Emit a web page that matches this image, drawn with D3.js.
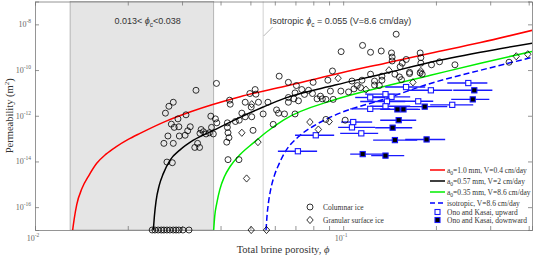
<!DOCTYPE html>
<html>
<head>
<meta charset="utf-8">
<script src="https://cdn.jsdelivr.net/npm/d3@7"></script>
<style>
  body { margin: 0; background: #fff; }
  svg { display: block; }
  .serif { font-family: "Liberation Serif", "Times New Roman", serif; }
  .sans { font-family: "Liberation Sans", Arial, sans-serif; }
</style>
</head>
<body>
<div id="chart"></div>
<script>
// ---- data (porosity phi, permeability k in m^2) ----

// columnar ice samples; k = 1e-17 marks samples plotted on the bottom axis
const columnarIce = [
  [0.0388, 2.6e-11], [0.0333, 1.3e-11], [0.0281, 3.9e-12], [0.0272, 2.6e-12],
  [0.0265, 1.3e-12], [0.0309, 1.1e-12], [0.0291, 7.3e-13], [0.0277, 4.3e-13],
  [0.0283, 3.1e-13], [0.0293, 3.3e-13], [0.0319, 3.3e-13], [0.0313, 2.2e-13],
  [0.0270, 1.3e-13], [0.0294, 1.3e-13], [0.0307, 1.4e-13], [0.0372, 9.6e-13],
  [0.0385, 7.3e-13], [0.0389, 4.9e-13], [0.0374, 3.1e-13], [0.0346, 2.5e-13],
  [0.0352, 2.0e-13], [0.0428, 4.8e-12], [0.0430, 3.2e-12], [0.0421, 4.9e-13],
  [0.0421, 3.1e-13], [0.0423, 1.8e-13], [0.0426, 1.1e-13], [0.0447, 5.6e-13],
  [0.0460, 6.4e-13], [0.0281, 6.2e-14], [0.0262, 6.2e-14], [0.0343, 1.7e-13],
  [0.0359, 1.6e-13], [0.0368, 1.8e-13], [0.0379, 1.6e-13], [0.0330, 4.1e-14],
  [0.0342, 4.1e-14], [0.0337, 6.2e-14], [0.0268, 9.4e-15], [0.0279, 8.8e-15],
  [0.0419, 7.0e-14], [0.0423, 1.2e-14], [0.0459, 1.2e-14],
  [0.0240, 1e-17], [0.0245, 1e-17], [0.0251, 1e-17], [0.0257, 1e-17],
  [0.0262, 1e-17], [0.0268, 1e-17], [0.0274, 1e-17], [0.0281, 1e-17],
  [0.0287, 1e-17], [0.0293, 1e-17], [0.0302, 1e-17], [0.0316, 1e-17],
  [0.1156, 1.2e-9], [0.0985, 6.4e-10], [0.1227, 6.0e-10], [0.1329, 6.8e-10],
  [0.0620, 5.4e-11], [0.0664, 2.9e-11], [0.0923, 9.1e-11], [0.0892, 3.6e-11],
  [0.0799, 2.9e-11], [0.1227, 6.6e-11], [0.1151, 3.6e-11], [0.1068, 3.3e-11],
  [0.0498, 9.4e-12], [0.0518, 1.4e-11], [0.0521, 8.8e-12], [0.0481, 3.9e-12],
  [0.0531, 3.9e-12], [0.0570, 3.9e-12], [0.0503, 2.4e-12], [0.0705, 2.1e-11],
  [0.0698, 1.0e-11], [0.0734, 1.4e-11], [0.0749, 8.6e-12], [0.0664, 6.3e-12],
  [0.0716, 4.5e-12], [0.0664, 3.9e-12], [0.0692, 5.5e-12], [0.0772, 1.3e-11],
  [0.0795, 9.4e-12], [0.0823, 5.5e-12], [0.0856, 5.5e-12], [0.0879, 5.2e-12],
  [0.0844, 7.2e-12], [0.0928, 5.2e-12], [0.0909, 1.2e-11], [0.0983, 1.2e-11],
  [0.1041, 1.1e-11], [0.1084, 1.5e-11], [0.1111, 2.1e-11], [0.1139, 1.7e-11],
  [0.1264, 3.3e-11], [0.1336, 3.6e-11], [0.1336, 5.4e-11], [0.1264, 2.2e-11],
  [0.1310, 2.1e-11], [0.0608, 1.8e-12], [0.0617, 1.3e-12], [0.0645, 1.2e-12],
  [0.0698, 1.2e-12], [0.0481, 9.0e-13], [0.0505, 9.0e-13], [0.0469, 1.3e-12],
  [0.0550, 1.2e-12], [0.0879, 6.9e-13], [0.1015, 6.4e-13], [0.0593, 4.2e-13],
  [0.0510, 2.3e-13],
  [0.1486, 3.7e-9], [0.1435, 5.6e-10], [0.1442, 3.7e-10], [0.1442, 2.5e-10],
  [0.1778, 5.6e-10], [0.1787, 3.5e-10], [0.1787, 2.0e-10], [0.1935, 1.7e-10],
  [0.2054, 2.3e-10], [0.2305, 1.7e-10], [0.3454, 2.2e-10], [0.1555, 2.0e-10],
  [0.1602, 2.9e-10], [0.1642, 8.0e-11], [0.1531, 1.4e-10], [0.1472, 6.6e-11],
  [0.1523, 5.0e-11], [0.1546, 3.8e-11], [0.1642, 7.0e-11], [0.1778, 7.5e-11],
  [0.1805, 6.6e-11]
]

// granular surface ice samples
const granularIce = [
  [0.0963, 4.4e-11], [0.0505, 3.2e-12], [0.0780, 5.3e-13], [0.0831, 2.5e-13],
  [0.0901, 5.6e-13], [0.0529, 7.0e-14], [0.0486, 1.8e-15], [0.0469, 1.8e-13],
  [0.0503, 1e-17], [0.0564, 1e-17], [0.1408, 9.8e-11], [0.1787, 9.1e-11],
  [0.1684, 2.9e-11], [0.3645, 4.0e-10], [0.3972, 4.9e-10], [0.1185, 1.4e-11]
]

// Ono and Kasai: [phi, k, phi low, phi high]
const onoUpward = [
  [0.0713, 2.8e-14, 0.0614, 0.0823], [0.0815, 1.4e-13, 0.0698, 0.0935],
  [0.1078, 5.3e-13, 0.0985, 0.1242], [0.1068, 3.1e-13, 0.0963, 0.1270],
  [0.1145, 1.7e-13, 0.0978, 0.1299], [0.1600, 1.8e-11, 0.1369, 0.1846],
  [0.1926, 1.3e-11, 0.1614, 0.2259], [0.2547, 2.7e-11, 0.2177, 0.2937],
  [0.1752, 4.3e-12, 0.1319, 0.1960], [0.2259, 3.0e-12, 0.1916, 0.2643],
  [0.1372, 8.8e-12, 0.1179, 0.1531], [0.1435, 6.7e-12, 0.1242, 0.1650],
  [0.1387, 4.2e-12, 0.1136, 0.1590], [0.1224, 2.0e-12, 0.1054, 0.1421],
  [0.1224, 6.3e-12, 0.1094, 0.1369], [0.1372, 2.6e-12, 0.1224, 0.1650]
]
const onoDownward = [
  [0.2664, 1.3e-11, 0.2276, 0.3049], [0.2634, 5.2e-12, 0.2242, 0.2980],
  [0.1839, 2.5e-12, 0.1566, 0.2177], [0.1569, 1.9e-12, 0.1349, 0.1778],
  [0.1500, 1.9e-12, 0.1319, 0.1751], [0.1514, 6.4e-13, 0.1319, 0.1726],
  [0.1447, 3.0e-13, 0.1270, 0.1675], [0.1472, 8.6e-14, 0.1251, 0.1739],
  [0.1865, 9.2e-14, 0.1590, 0.2143], [0.1157, 2.1e-14, 0.1054, 0.1349],
  [0.1372, 1.8e-14, 0.1233, 0.1578]
]

// model curves
const modelA10 = [
  [0.01325, 1e-17], [0.01340, 3.0e-17], [0.01366, 1.3e-16], [0.01420, 6.5e-16],
  [0.01500, 2.6e-15], [0.01586, 8.3e-15], [0.01700, 2.1e-14], [0.01842, 4.6e-14],
  [0.02000, 9.0e-14], [0.02192, 1.7e-13], [0.02676, 6.0e-13], [0.0320, 1.5e-12],
  [0.0463, 6.8e-12], [0.0648, 1.95e-11], [0.0942, 6.6e-11], [0.137, 2.0e-10],
  [0.192, 5.4e-10], [0.279, 1.6e-9], [0.411, 5.5e-9]
]
const modelA057 = [
  [0.02421, 1e-17], [0.02440, 4.0e-17], [0.02470, 1.8e-16], [0.02530, 9.0e-16],
  [0.02610, 3.0e-15], [0.02744, 1.15e-14], [0.02956, 3.2e-14], [0.03266, 8.5e-14],
  [0.03793, 2.3e-13], [0.0463, 8.5e-13], [0.0550, 2.4e-12], [0.0648, 5.9e-12],
  [0.0942, 2.2e-11], [0.137, 7.2e-11], [0.192, 2.2e-10], [0.279, 6.0e-10],
  [0.411, 1.5e-9]
]
const modelA035 = [
  [0.0380, 1e-17], [0.0383, 4.0e-17], [0.0389, 1.5e-16], [0.0398, 6.0e-16],
  [0.0412, 2.2e-15], [0.04297, 6.0e-15], [0.0463, 2.0e-14], [0.05115, 6.5e-14],
  [0.05654, 2.0e-13], [0.0640, 6.5e-13], [0.0942, 5.1e-12], [0.137, 1.95e-11],
  [0.192, 5.9e-11], [0.279, 2.0e-10], [0.411, 6.6e-10]
]
const modelIsotropic = [
  [0.0562, 1e-17], [0.0566, 4.0e-17], [0.0572, 1.5e-16], [0.0582, 6.0e-16],
  [0.0598, 2.4e-15], [0.0620, 8.0e-15], [0.0648, 2.6e-14], [0.07158, 1.2e-13],
  [0.08112, 3.9e-13], [0.0942, 1.07e-12], [0.137, 5.5e-12], [0.192, 2.6e-11],
  [0.279, 9.8e-11], [0.411, 3.6e-10]
]

const phiCritRange = [0.013, 0.038]
const phiCritIso = 0.055

const xTicks = [0.01, 0.02, 0.03, 0.04, 0.05, 0.06, 0.07, 0.08, 0.09, 0.1, 0.2, 0.3, 0.4]
const xTickLabels = [0.01, 0.1]
const yTicks = [1e-16, 1e-14, 1e-12, 1e-10, 1e-8]

// ---- layout ----
var width = 534, height = 258
var plotLeft = 35, plotRight = 532, plotTop = 1.5, plotBottom = 230

var x = d3.scaleLog().domain([0.01, 0.41]).range([plotLeft, plotRight])
var y = d3.scaleLog().domain([1e-17, 1e-7]).range([plotBottom, plotTop])

var svg = d3.select('#chart').append('svg')
  .attr('width', width)
  .attr('height', height)

svg.append('defs').append('clipPath').attr('id', 'plotClip')
  .append('rect')
  .attr('x', plotLeft).attr('y', plotTop)
  .attr('width', plotRight - plotLeft).attr('height', plotBottom - plotTop)

// shaded critical porosity band
svg.append('rect')
  .attr('x', x(phiCritRange[0]))
  .attr('y', plotTop)
  .attr('width', x(phiCritRange[1]) - x(phiCritRange[0]))
  .attr('height', plotBottom - plotTop)
  .style('fill', '#e5e5e5')
  .style('stroke', '#a8a8a8')
  .style('stroke-width', 0.8)

// isotropic critical porosity
svg.append('line')
  .attr('x1', x(phiCritIso)).attr('x2', x(phiCritIso))
  .attr('y1', plotTop).attr('y2', plotBottom)
  .style('stroke', '#c4c4c4')
  .style('stroke-width', 0.8)

// axes: ticks point inward on all four sides
var axisColor = '#7a7a7a'
svg.append('g')
  .attr('transform', 'translate(0,' + plotBottom + ')')
  .call(d3.axisBottom(x).tickValues(xTicks).tickSize(-4).tickFormat(''))
svg.append('g')
  .attr('transform', 'translate(0,' + plotTop + ')')
  .call(d3.axisTop(x).tickValues(xTicks).tickSize(-4).tickFormat(''))
svg.append('g')
  .attr('transform', 'translate(' + plotLeft + ',0)')
  .call(d3.axisLeft(y).tickValues(yTicks).tickSize(-4).tickFormat(''))
svg.append('g')
  .attr('transform', 'translate(' + plotRight + ',0)')
  .call(d3.axisRight(y).tickValues(yTicks).tickSize(-4).tickFormat(''))
svg.selectAll('.domain').style('stroke', axisColor).style('stroke-width', 0.8)
svg.selectAll('.tick line').style('stroke', axisColor).style('stroke-width', 0.8)

// tick labels 10^n
function powLabel(sel, v) {
  var e = Math.round(Math.log10(v))
  sel.append('tspan').text('10')
  sel.append('tspan').attr('dy', -4).style('font-size', '5.5px').text('-' + Math.abs(e))
}
xTickLabels.forEach(function (v) {
  var t = svg.append('text').attr('class', 'serif')
    .attr('x', x(v) - 2).attr('y', 241)
    .attr('text-anchor', 'middle')
    .style('font-size', '8px').style('fill', '#666')
  powLabel(t, v)
})
yTicks.forEach(function (v) {
  var t = svg.append('text').attr('class', 'serif')
    .attr('x', 31).attr('y', y(v) + 3)
    .attr('text-anchor', 'end')
    .style('font-size', '8px').style('fill', '#666')
  powLabel(t, v)
})

// axis titles
var yTitle = svg.append('text').attr('class', 'serif')
  .attr('transform', 'translate(13,' + ((plotTop + plotBottom) / 2) + ') rotate(-90)')
  .attr('text-anchor', 'middle')
  .style('font-size', '10.5px').style('fill', '#333')
yTitle.append('tspan').text('Permeability (m')
yTitle.append('tspan').attr('dy', -4).style('font-size', '7px').text('2')
yTitle.append('tspan').attr('dy', 4).text(')')

var xTitle = svg.append('text').attr('class', 'serif')
  .attr('x', 283).attr('y', 253)
  .attr('text-anchor', 'middle')
  .style('font-size', '10.5px').style('fill', '#333')
xTitle.append('tspan').text('Total brine porosity, ')
xTitle.append('tspan').style('font-style', 'italic').text('\u03d5')

// annotations
var note1 = svg.append('text').attr('class', 'sans')
  .attr('x', x(0.0181)).attr('y', 24)
  .style('font-size', '9px').style('fill', '#333')
note1.append('tspan').text('0.013< ')
note1.append('tspan').style('font-style', 'italic').text('\u03d5')
note1.append('tspan').attr('dy', 3).style('font-size', '6.5px').text('c')
note1.append('tspan').attr('dy', -3).text('<0.038')

var note2 = svg.append('text').attr('class', 'sans')
  .attr('x', x(0.0578)).attr('y', 24)
  .style('font-size', '9px').style('fill', '#333')
note2.append('tspan').text('Isotropic ')
note2.append('tspan').style('font-style', 'italic').text('\u03d5')
note2.append('tspan').attr('dy', 3).style('font-size', '6.5px').text('c')
note2.append('tspan').attr('dy', -3).text(' = 0.055 (V=8.6 cm/day)')

svg.append('line')
  .attr('x1', x(phiCritIso) + 0.5).attr('y1', 36)
  .attr('x2', x(phiCritIso) + 9.5).attr('y2', 27)
  .style('stroke', '#999').style('stroke-width', 0.7)

// model curves
var line = d3.line()
  .x(function (d) { return x(d[0]) })
  .y(function (d) { return y(d[1]) })
  .curve(d3.curveMonotoneX)

var curves = [
  { data: modelA10, color: '#ff0000', dash: null },
  { data: modelA057, color: '#000000', dash: null },
  { data: modelA035, color: '#00ee00', dash: null },
  { data: modelIsotropic, color: '#0000ff', dash: '6,3' }
]
var curveG = svg.append('g').attr('clip-path', 'url(#plotClip)')
curves.forEach(function (c) {
  curveG.append('path')
    .datum(c.data)
    .attr('d', line)
    .style('fill', 'none')
    .style('stroke', c.color)
    .style('stroke-width', 1.5)
    .style('stroke-dasharray', c.dash)
})

// Ono and Kasai with porosity error bars
var blue = '#1a1aff'
function drawOno(data, filled) {
  var g = svg.append('g')
  g.selectAll('line').data(data).enter().append('line')
    .attr('x1', function (d) { return x(d[2]) })
    .attr('x2', function (d) { return x(d[3]) })
    .attr('y1', function (d) { return y(d[1]) })
    .attr('y2', function (d) { return y(d[1]) })
    .style('stroke', blue).style('stroke-width', 1.4)
  g.selectAll('rect').data(data).enter().append('rect')
    .attr('x', function (d) { return x(d[0]) - 2.6 })
    .attr('y', function (d) { return y(d[1]) - 2.6 })
    .attr('width', 5.2).attr('height', 5.2)
    .style('fill', filled ? '#000' : '#fff')
    .style('stroke', blue).style('stroke-width', 1.1)
}
drawOno(onoUpward, false)
drawOno(onoDownward, true)

// ice samples
svg.append('g').selectAll('circle')
  .data(columnarIce).enter().append('circle')
  .attr('cx', function (d) { return x(d[0]) })
  .attr('cy', function (d) { return y(d[1]) })
  .attr('r', 3)
  .style('fill', 'none').style('stroke', '#000').style('stroke-width', 0.8)

var diamond = 'M0,-3.6L3.2,0L0,3.6L-3.2,0Z'
svg.append('g').selectAll('path')
  .data(granularIce).enter().append('path')
  .attr('d', diamond)
  .attr('transform', function (d) { return 'translate(' + x(d[0]) + ',' + y(d[1]) + ')' })
  .style('fill', 'none').style('stroke', '#000').style('stroke-width', 0.8)

// legends
var sampleLegend = [
  { label: 'Columnar ice', shape: 'circle' },
  { label: 'Granular surface ice', shape: 'diamond' }
]
sampleLegend.forEach(function (d, i) {
  var ly = 207 + i * 13
  if (d.shape === 'circle') {
    svg.append('circle').attr('cx', 310).attr('cy', ly).attr('r', 3)
      .style('fill', 'none').style('stroke', '#000').style('stroke-width', 0.8)
  } else {
    svg.append('path').attr('d', diamond).attr('transform', 'translate(310,' + ly + ')')
      .style('fill', 'none').style('stroke', '#000').style('stroke-width', 0.8)
  }
  svg.append('text').attr('class', 'serif')
    .attr('x', 323).attr('y', ly + 2.5)
    .style('font-size', '7.5px').style('fill', '#333')
    .text(d.label)
})

var modelLegend = [
  { a0: '1.0', rest: ' mm, V=0.4 cm/day', color: '#ff0000', dash: null },
  { a0: '0.57', rest: ' mm, V=2 cm/day', color: '#000000', dash: null },
  { a0: '0.35', rest: ' mm, V=8.6 cm/day', color: '#00ee00', dash: null },
  { text: 'isotropic, V=8.6 cm/day', color: '#0000ff', dash: '5,3' },
  { text: 'Ono and Kasai, upward', square: false },
  { text: 'Ono and Kasai, downward', square: true }
]
var legendY = [170, 181, 192, 203, 212, 220]
modelLegend.forEach(function (d, i) {
  var ly = legendY[i]
  if (d.color) {
    svg.append('line')
      .attr('x1', 430).attr('x2', 445).attr('y1', ly).attr('y2', ly)
      .style('stroke', d.color).style('stroke-width', 1.5)
      .style('stroke-dasharray', d.dash)
  } else {
    svg.append('rect').attr('x', 435).attr('y', ly - 2.5).attr('width', 5).attr('height', 5)
      .style('fill', d.square ? '#000' : '#fff')
      .style('stroke', blue).style('stroke-width', 1.1)
  }
  var t = svg.append('text').attr('class', 'serif')
    .attr('x', 447).attr('y', ly + 2.5)
    .style('font-size', '7.5px').style('fill', '#333')
  if (d.a0) {
    t.append('tspan').text('a')
    t.append('tspan').attr('dy', 2).style('font-size', '5.5px').text('0')
    t.append('tspan').attr('dy', -2).text('=' + d.a0 + d.rest)
  } else {
    t.text(d.text)
  }
})
</script>
</body>
</html>
